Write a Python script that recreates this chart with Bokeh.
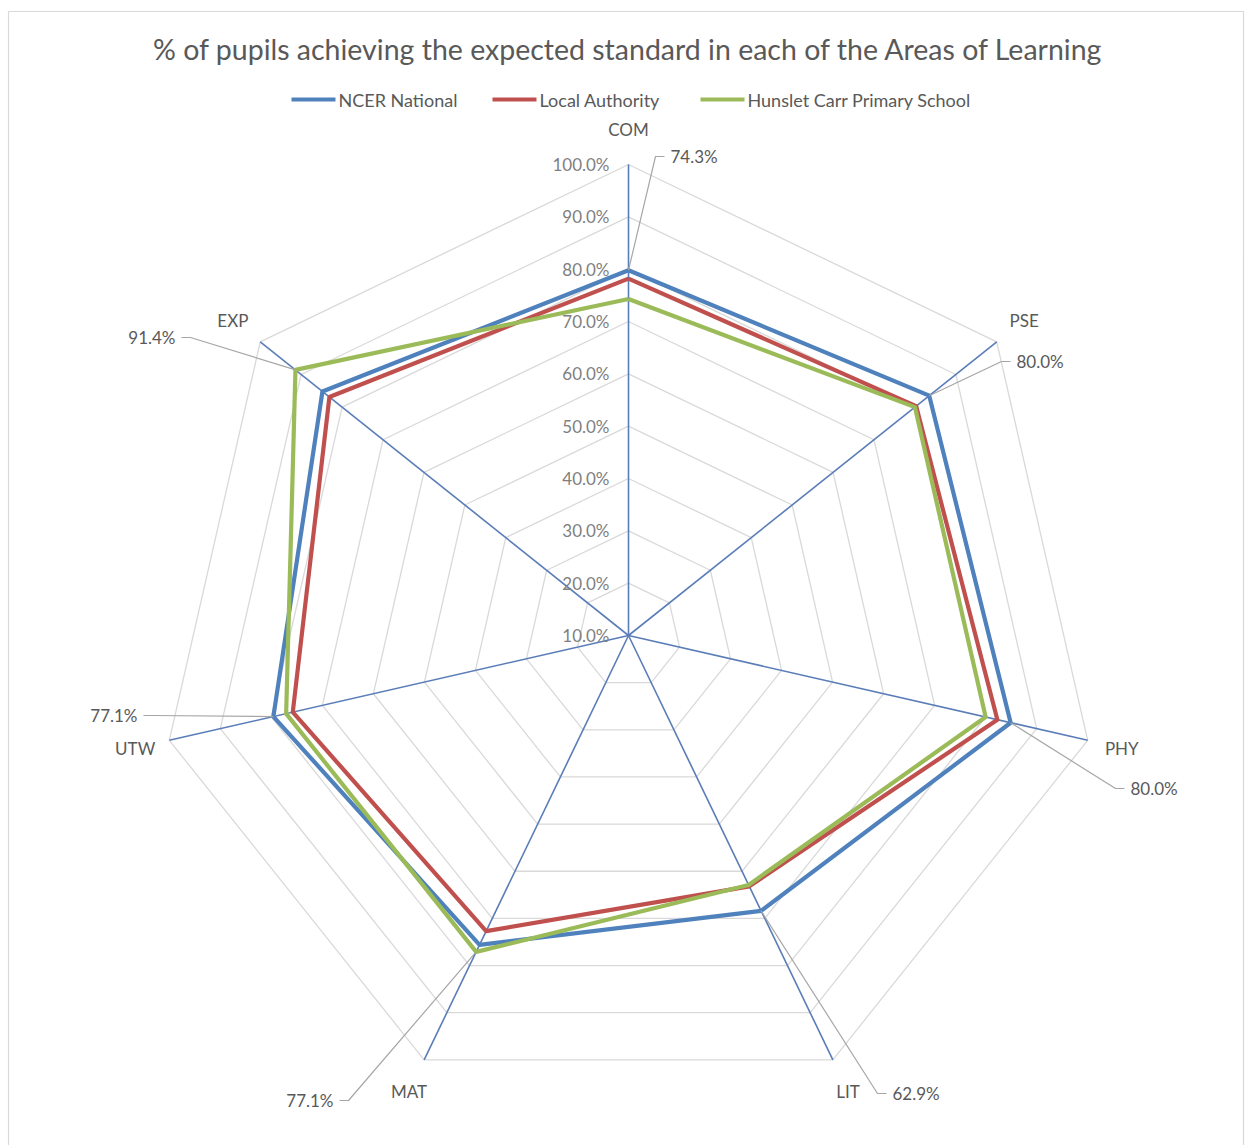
import numpy as np
from bokeh.plotting import figure
from bokeh.models import Range1d, ColumnDataSource
from bokeh.core.properties import value
from bokeh.embed import file_html
from bokeh.resources import INLINE

# ---- data -------------------------------------------------------------
categories = ["COM", "PSE", "PHY", "LIT", "MAT", "UTW", "EXP"]
ncer_national = [79.8, 83.5, 84.9, 68.4, 75.6, 79.6, 84.8]
local_authority = [78.2, 80.3, 82.3, 63.2, 72.7, 75.8, 83.1]
hunslet_carr = [74.3, 80.0, 80.0, 62.9, 77.1, 77.1, 91.4]
series_names = ["NCER National", "Local Authority", "Hunslet Carr Primary School"]
ring_ticks = [10, 20, 30, 40, 50, 60, 70, 80, 90, 100]
title_text = "% of pupils achieving the expected standard in each of the Areas of Learning"

# ---- layout / style ---------------------------------------------------
W, H = 1247, 1145
CX, CY = 628, 635          # centre of the radar
R_PX = 471                 # radius of the 100% ring in px
R_MIN, R_MAX = 10, 100     # radial axis range
FONT = value("Lato")
TEXT_GREY = "#595959"
SERIES_COLORS = ["#4F81BD", "#C0504D", "#9BBB59"]
SPOKE_COLOR = "#5A7DB8"
RING_COLOR = "#D9D9D9"
LEADER_COLOR = "#A6A6A6"

# data label anchor (text edge) relative to the centre, and alignment
label_anchor = [(42, -479, "left"), (388, -274, "left"), (502, 153, "left"),
                (264, 458, "left"), (-295, 465, "right"), (-491, 80, "right"),
                (-453, -298, "right")]

n = len(categories)
theta = np.pi / 2 - np.arange(n) * 2 * np.pi / n


def to_xy(vals):
    vals = np.asarray(vals, dtype=float)
    r = (vals - R_MIN) / (R_MAX - R_MIN) * R_PX
    return CX + r * np.cos(theta), CY - r * np.sin(theta)


p = figure(width=W, height=H, x_range=Range1d(0, W), y_range=Range1d(H, 0),
           output_backend="svg", toolbar_location=None, min_border=0,
           x_axis_location=None, y_axis_location=None)
p.grid.visible = False
p.outline_line_color = None
p.background_fill_color = "white"
p.border_fill_color = "white"

# chart border
p.quad(left=8, right=W - 4, top=11, bottom=H + 10, fill_alpha=0,
       line_color=RING_COLOR, line_width=1.2)

# rings
ring_xs, ring_ys = [], []
for t in ring_ticks[1:]:
    rx, ry = to_xy([t] * n)
    ring_xs.append(list(rx) + [rx[0]])
    ring_ys.append(list(ry) + [ry[0]])
p.multi_line(ring_xs, ring_ys, line_color=RING_COLOR, line_width=1.3)

# spokes
ox, oy = to_xy([R_MAX] * n)
p.multi_line([[CX, x] for x in ox], [[CY, y] for y in oy],
             line_color=SPOKE_COLOR, line_width=1.6)

# radial tick labels along the top spoke
tick_y = [CY - (t - R_MIN) / (R_MAX - R_MIN) * R_PX for t in ring_ticks]
p.text(x=[CX - 19] * len(ring_ticks), y=tick_y,
       text=[f"{t:.1f}%" for t in ring_ticks], text_font=FONT,
       text_font_size="17px", text_color="#7F7F7F", text_align="right",
       text_baseline="middle")

# category labels
cx_lab = CX + (R_PX + 35) * np.cos(theta)
cy_lab = CY - (R_PX + 35) * np.sin(theta)
p.text(x=cx_lab, y=cy_lab, text=categories, text_font=FONT,
       text_font_size="17px", text_color=TEXT_GREY, text_align="center",
       text_baseline="middle")

# series
for vals, col in zip([ncer_national, local_authority, hunslet_carr], SERIES_COLORS):
    sx, sy = to_xy(vals)
    p.line(list(sx) + [sx[0]], list(sy) + [sy[0]], line_color=col,
           line_width=4.2, line_join="round")

# data labels for the school, with leader lines to the outermost point
outer = np.max([ncer_national, local_authority, hunslet_carr], axis=0)
px_, py_ = to_xy(outer)
lead_xs, lead_ys = [], []
lx, ly, la, lt = [], [], [], []
for k, (dx, dy, align) in enumerate(label_anchor):
    tx, ty = CX + dx, CY + dy
    sgn = -1 if align == "left" else 1
    elbow = tx + sgn * 15
    dash_end = tx + sgn * 6
    lead_xs.append([px_[k], elbow, dash_end])
    lead_ys.append([py_[k], ty, ty])
    lx.append(tx); ly.append(ty); la.append(align)
    lt.append(f"{hunslet_carr[k]:.1f}%")
p.multi_line(lead_xs, lead_ys, line_color=LEADER_COLOR, line_width=1.2)
lsrc = ColumnDataSource(dict(x=lx, y=ly, text=lt, align=la))
p.text(x="x", y="y", text="text", text_align="align", source=lsrc,
       text_font=FONT, text_font_size="17px", text_color=TEXT_GREY,
       text_baseline="middle")

# title
p.text(x=[CX], y=[48], text=[title_text], text_font=FONT,
       text_font_size="28.5px", text_color=TEXT_GREY, text_align="center",
       text_baseline="middle")

# legend
legend_x = [291, 492, 700]
legend_y = 99
for x0, name, col in zip(legend_x, series_names, SERIES_COLORS):
    p.line([x0, x0 + 44], [legend_y, legend_y], line_color=col, line_width=4.2)
    p.text(x=[x0 + 47], y=[legend_y], text=[name], text_font=FONT,
           text_font_size="18px", text_color=TEXT_GREY, text_align="left",
           text_baseline="middle")

open("out.html", "w").write(file_html(p, INLINE))
